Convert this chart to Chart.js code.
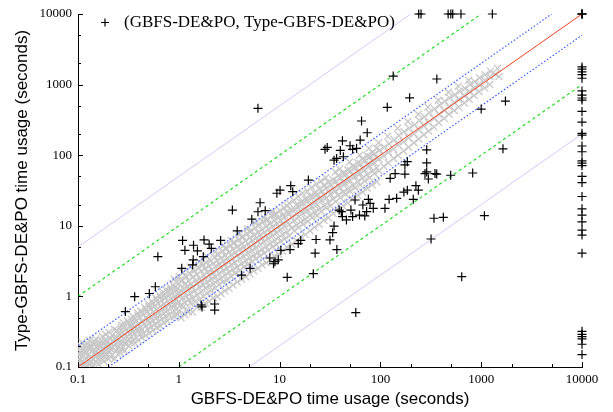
<!DOCTYPE html>
<html><head><meta charset="utf-8">
<script src="https://cdn.jsdelivr.net/npm/chart.js@4.4.1/dist/chart.umd.min.js"></script>
<style>html,body{margin:0;padding:0;background:#fff;}canvas{display:block;}</style>
</head><body>
<canvas id="c" width="613" height="412"></canvas>
<script>
const majorTicks = [0.1, 1, 10, 100, 1000, 10000];
const minorTicks = [0.2, 0.5, 2, 5, 20, 50, 200, 500, 2000, 5000];
const tickLabels = ['0.1', '1', '10', '100', '1000', '10000'];
const xTitle = 'GBFS-DE&PO time usage (seconds)';
const yTitle = 'Type-GBFS-DE&PO time usage (seconds)';
const legendText = '(GBFS-DE&PO, Type-GBFS-DE&PO)';

// gray (within band) points
const grayPairs = [
[0.1,0.1],[0.1,0.115],[0.102,0.13],[0.104,0.15],[0.1,0.175],[0.106,0.2],
[0.11,0.1],[0.112,0.12],[0.108,0.14],[0.113,0.18],[0.11,0.225],
[0.12,0.1],[0.118,0.112],[0.122,0.132],[0.12,0.16],[0.124,0.19],
[0.13,0.108],[0.132,0.122],[0.128,0.152],[0.134,0.2],[0.13,0.24],
[0.14,0.1],[0.142,0.13],[0.138,0.17],[0.144,0.21],
[0.15,0.118],[0.152,0.14],[0.148,0.162],[0.155,0.19],[0.15,0.25],
[0.16,0.11],[0.163,0.15],[0.158,0.182],[0.165,0.22],
[0.17,0.13],[0.172,0.16],[0.168,0.2],[0.175,0.27],
[0.18,0.12],[0.184,0.17],[0.178,0.212],[0.186,0.24],
[0.19,0.142],[0.195,0.18],[0.192,0.23],
[0.2,0.13],[0.205,0.162],[0.2,0.2],[0.208,0.26],[0.202,0.31],
[0.22,0.15],[0.218,0.19],[0.224,0.232],[0.22,0.28],
[0.24,0.17],[0.238,0.21],[0.245,0.26],[0.242,0.33],
[0.26,0.16],[0.263,0.22],[0.258,0.29],[0.266,0.36],
[0.28,0.19],[0.285,0.25],[0.279,0.31],[0.283,0.42],
[0.3,0.21],[0.305,0.27],[0.298,0.34],[0.31,0.45],
[0.32,0.2],[0.325,0.29],[0.33,0.38],
[0.35,0.24],[0.345,0.31],[0.355,0.4],[0.352,0.52],
[0.38,0.26],[0.385,0.35],[0.376,0.44],[0.39,0.58],
[0.41,0.29],[0.415,0.37],[0.405,0.5],[0.42,0.62],
[0.45,0.3],[0.455,0.41],[0.445,0.55],[0.46,0.7],
[0.49,0.34],[0.495,0.46],[0.485,0.6],[0.5,0.78],
[0.53,0.37],[0.535,0.5],[0.525,0.66],[0.54,0.85],
[0.58,0.4],[0.585,0.55],[0.575,0.72],[0.59,0.95],
[0.63,0.44],[0.635,0.6],[0.625,0.8],[0.64,1.05],
[0.68,0.48],[0.69,0.66],[0.675,0.88],[0.7,1.15],
[0.74,0.52],[0.745,0.7],[0.735,0.95],[0.75,1.25],
[0.8,0.55],[0.81,0.77],[0.795,1.02],[0.82,1.35],
[0.87,0.6],[0.875,0.83],[0.865,1.1],[0.88,1.45],
[0.94,0.65],[0.945,0.9],[0.935,1.2],[0.95,1.6],
[1.0,0.62],[1.0,0.85],[1.02,1.1],[0.99,1.5],[1.01,1.9],
[1.1,0.7],[1.1,0.95],[1.12,1.3],[1.09,1.7],[1.1,2.2],
[1.2,0.65],[1.2,1.0],[1.22,1.4],[1.19,1.9],
[1.3,0.8],[1.3,1.1],[1.32,1.5],[1.29,2.1],[1.3,2.6],
[1.45,0.85],[1.45,1.2],[1.47,1.7],[1.44,2.3],
[1.6,0.9],[1.6,1.35],[1.62,1.8],[1.58,2.5],[1.6,3.1],
[1.75,1.0],[1.75,1.45],[1.77,2.0],[1.74,2.8],
[1.9,1.1],[1.9,1.6],[1.92,2.2],[1.88,3.0],[1.9,3.7],
[2.1,1.2],[2.1,1.75],[2.12,2.4],[2.08,3.2],
[2.3,1.3],[2.3,1.9],[2.33,2.7],[2.28,3.6],[2.3,4.3],
[2.5,1.45],[2.5,2.1],[2.53,2.9],[2.48,3.9],
[2.75,1.6],[2.75,2.3],[2.78,3.2],[2.72,4.4],[2.75,5.2],
[3.0,1.7],[3.0,2.5],[3.04,3.5],[2.97,4.8],
[3.3,1.9],[3.3,2.8],[3.34,3.9],[3.27,5.3],[3.3,6.2],
[3.6,2.1],[3.6,3.0],[3.64,4.2],[3.57,5.8],
[4.0,2.3],[4.0,3.4],[4.05,4.7],[3.96,6.4],[4.0,7.5],
[4.4,2.6],[4.4,3.7],[4.45,5.1],[4.36,7.0],
[4.8,2.8],[4.8,4.1],[4.86,5.6],[4.75,7.8],[4.8,9.0],
[5.3,3.1],[5.3,4.5],[5.36,6.2],[5.25,8.5],
[5.8,3.4],[5.8,4.9],[5.87,6.8],[5.74,9.4],[5.8,11],
[6.4,3.7],[6.4,5.5],[6.48,7.5],[6.33,10.5],
[7.0,4.1],[7.0,6.0],[7.09,8.2],[6.93,11.5],[7.0,13],
[7.7,4.5],[7.7,6.6],[7.8,9.0],[7.62,12.5],
[8.5,5.0],[8.5,7.3],[8.6,9.9],[8.4,14],[8.5,16],
[9.3,5.4],[9.3,8.0],[9.42,10.8],[9.2,15],
[10.2,6.0],[10.2,8.8],[10.3,12],[10.1,16.5],
[11.2,6.5],[11.2,9.8],[11.35,13.5],[11.1,18],
[12.5,7.2],[12.5,10.5],[12.65,15],[12.4,21],
[14,8.5],[14,12],[14.2,17],[13.85,23],
[15.5,9.5],[15.5,13.5],[15.7,19],[15.3,26],
[17,10.5],[17,15],[17.2,21],[16.8,29],
[19,11.5],[19,16.5],[19.25,23],[18.8,31],
[21,13],[21,18.5],[21.3,26],[20.8,35],
[23.5,14],[23.5,20],[23.8,28],[23.2,39],
[26,16],[26,23],[26.4,31],[25.7,43],
[29,18],[29,25],[29.4,35],[28.7,48],
[32,19],[32,28],[32.4,38],
[36,22],[36,31],[36.5,43],[35.6,58],
[40,25],[40,35],[40.5,48],[39.6,64],
[45,28],[45,40],[45.6,54],
[50,31],[50,44],[50.7,60],[49.4,80],
[56,35],[56,50],[56.8,67],
[63,38],[63,55],[63.8,75],[62.3,100],
[70,43],[70,62],[71,85],
[78,48],[78,70],[79,95],[77,125],
[87,55],[87,78],[88,105],
[97,60],[97,88],[98.5,118],[96,150],
[108,70],[108,98],[110,130],
[120,78],[120,110],[122,145],[118,185],
[135,90],[135,122],[137,165],
[150,100],[150,140],[152,190],[148,240],
[170,115],[170,155],[172,215],
[190,130],[190,175],[193,240],[187,300],
[215,150],[215,200],[218,270],
[240,170],[240,230],[244,310],[237,380],
[270,195],[270,260],[274,350],
[300,220],[300,290],[305,400],[296,480],
[340,250],[340,330],[345,450],
[380,290],[380,380],[386,510],[375,600],
[430,330],[430,430],[436,580],
[480,380],[480,490],[487,650],[474,780],
[540,430],[540,560],[548,720],
[600,480],[600,620],[609,800],[592,950],
[680,550],[680,700],[690,880],
[760,620],[760,800],[771,1000],[750,1150],
[850,700],[850,900],[862,1100],
[950,800],[950,1000],[964,1250],
[1080,900],[1080,1150],[1095,1380],
[1220,1000],[1220,1300],[1237,1550],
[1380,1400],[1450,1700],[1500,1300],
[0.105,0.125],[0.105,0.165],[0.115,0.105],[0.115,0.16],[0.115,0.2],[0.125,0.145],[0.125,0.21],
[0.135,0.115],[0.135,0.185],[0.145,0.15],[0.145,0.23],[0.157,0.13],[0.157,0.2],[0.173,0.145],[0.173,0.235],
[0.188,0.155],[0.188,0.2],[0.188,0.29],[0.21,0.14],[0.21,0.18],[0.21,0.215],[0.21,0.25],
[0.23,0.13],[0.23,0.2],[0.23,0.25],[0.23,0.34],[0.25,0.15],[0.25,0.19],[0.25,0.24],[0.25,0.3],
[0.27,0.18],[0.27,0.23],[0.27,0.27],[0.27,0.39],[0.29,0.17],[0.29,0.22],[0.29,0.29],[0.29,0.37],
[0.315,0.24],[0.315,0.32],[0.315,0.42],[0.34,0.22],[0.34,0.27],[0.34,0.35],[0.34,0.47],
[0.365,0.22],[0.365,0.3],[0.365,0.37],[0.365,0.48],[0.395,0.24],[0.395,0.32],[0.395,0.41],[0.395,0.53],
[0.43,0.26],[0.43,0.34],[0.43,0.45],[0.43,0.6],[0.47,0.28],[0.47,0.38],[0.47,0.5],[0.47,0.65],
[0.51,0.3],[0.51,0.42],[0.51,0.55],[0.51,0.72],[0.555,0.33],[0.555,0.46],[0.555,0.6],[0.555,0.8],
[0.605,0.36],[0.605,0.5],[0.605,0.66],[0.605,0.88],[0.655,0.38],[0.655,0.53],[0.655,0.72],[0.655,0.97],
[0.71,0.42],[0.71,0.58],[0.71,0.78],[0.71,1.05],[0.77,0.45],[0.77,0.63],[0.77,0.85],[0.77,1.15],
[0.835,0.5],[0.835,0.7],[0.835,0.93],[0.835,1.25],[0.905,0.52],[0.905,0.75],[0.905,1.0],[0.905,1.35],[0.905,1.75],
[0.97,0.55],[0.97,0.78],[0.97,1.05],[0.97,1.3],
[1.05,0.5],[1.05,0.75],[1.05,1.2],[1.05,1.65],[1.15,0.55],[1.15,0.82],[1.15,1.15],[1.15,1.5],[1.15,2.0],
[1.25,0.6],[1.25,0.9],[1.25,1.25],[1.25,1.65],[1.37,0.6],[1.37,0.95],[1.37,1.35],[1.37,1.85],[1.37,2.4],
[1.52,0.7],[1.52,1.05],[1.52,1.5],[1.52,2.05],[1.67,0.7],[1.67,1.15],[1.67,1.65],[1.67,2.3],[1.67,2.9],
[1.83,0.8],[1.83,1.3],[1.83,1.8],[1.83,2.5],[2.0,0.85],[2.0,1.4],[2.0,2.0],[2.0,2.7],[2.0,3.4],
[2.2,0.95],[2.2,1.5],[2.2,2.15],[2.2,2.9],[2.4,1.0],[2.4,1.65],[2.4,2.35],[2.4,3.2],[2.4,4.0],
[2.62,1.1],[2.62,1.8],[2.62,2.6],[2.62,3.5],[2.87,1.2],[2.87,2.0],[2.87,2.85],[2.87,3.8],[2.87,4.8],
[3.15,1.3],[3.15,2.2],[3.15,3.1],[3.15,4.2],[3.45,1.45],[3.45,2.4],[3.45,3.4],[3.45,4.6],[3.45,5.7],
[3.8,1.6],[3.8,2.6],[3.8,3.75],[3.8,5.0],[4.2,1.75],[4.2,2.9],[4.2,4.1],[4.2,5.5],[4.2,6.9],
[4.6,1.9],[4.6,3.2],[4.6,4.5],[4.6,6.1],[5.05,2.1],[5.05,3.5],[5.05,4.9],[5.05,6.7],[5.05,8.3],
[5.55,2.3],[5.55,3.8],[5.55,5.4],[5.55,7.3],[6.1,2.5],[6.1,4.2],[6.1,6.0],[6.1,8.0],[6.1,10],
[6.7,2.8],[6.7,4.6],[6.7,6.6],[6.7,8.8],[7.35,3.0],[7.35,5.1],[7.35,7.2],[7.35,9.7],[7.35,12],
[8.1,3.3],[8.1,5.6],[8.1,7.9],[8.1,10.7],[8.9,3.7],[8.9,6.2],[8.9,8.7],[8.9,11.8],[8.9,14],
[9.75,4.0],[9.75,6.8],[9.75,9.5],[9.75,13],
[10.7,4.4],[10.7,7.5],[10.7,10.5],[10.7,14],[11.8,5.0],[11.8,8.2],[11.8,11.5],[11.8,15.5],[11.8,19],
[13.2,5.5],[13.2,9.2],[13.2,13],[13.2,17],[14.7,6.2],[14.7,10.2],[14.7,14.5],[14.7,19.5],
[16.2,7.0],[16.2,11.3],[16.2,16],[16.2,21.5],[18,7.5],[18,12.5],[18,17.5],[18,24],
[20,8.5],[20,14],[20,19.5],[20,26.5],[22.2,9.5],[22.2,15.5],[22.2,21.5],[22.2,29],
[24.7,10.5],[24.7,17],[24.7,24],[24.7,33],[27.5,12],[27.5,19],[27.5,27],[27.5,37],
[30.5,13],[30.5,21.5],[30.5,30],[30.5,41],[34,15],[34,24],[34,33],[34,45],
[38,17],[38,27],[38,37],[38,51],[42.5,19],[42.5,30],[42.5,41],[42.5,56],
[47.5,21],[47.5,33],[47.5,46],[47.5,62],[53,24],[53,37],[53,52],[53,70],
[59.5,27],[59.5,42],[59.5,58],[59.5,78],[66.5,30],[66.5,47],[66.5,65],[66.5,88],
[74,34],[74,53],[74,73],[74,98],[83,38],[83,59],[83,82],[83,110],[92,42],[92,66],[92,91],[92,125]
];

// black (outside band) points
const blackPairs = [
[10000,10000],[10000,10000],[10000,10000],[10000,1780],[10000,1660],[10000,1510],[10000,1380],[10000,1230],
[10000,813],[10000,708],[10000,646],[10000,603],[10000,417],[10000,295],[10000,204],[10000,192],[10000,135],
[10000,112],[10000,83],[10000,77],[10000,71],[10000,50],[10000,41],[10000,26],[10000,17.4],[10000,14.2],
[10000,11.4],[10000,8.7],[10000,7.4],[10000,4.1],[10000,0.32],[10000,0.29],[10000,0.27],[10000,0.25],
[10000,0.21],[10000,0.15],
[240,10000],[253,10000],[470,10000],[500,10000],[522,10000],[630,10000],[1290,10000],
[134,1320],[363,1200],[195,650],[117,477],[1000,450],[1740,585],[6.1,462],
[65,305],[74,208],[63,164],[42,160],[50,136],[53,121],[28.2,121],[29.7,129],[40,117],[58,125],[288,119],[1644,123],
[36.8,90],[34.7,85],[42.9,95],
[185,81],[175,73],[288,78],[140,55],[125,47],[175,54],[288,58],[277,55],[348,55],[362,54],[299,46],[498,52],
[823,56],[225,37],[238,32],[171,30],[185,32],[122,23.7],[145,24.5],[212,23.7],[56,23.2],[76,23.7],[79,20.8],
[67,19.7],[85,17.7],[111,17.7],[39,16.7],[41,15.9],[51,16.7],[73,15.9],[62,14.2],[70,13.8],[53,13.5],[42,13.5],
[46,12.1],[340,12.8],[421,13.2],[1076,13.9],[34.7,9.9],[33.6,8.0],[31.6,6.3],[37,4.6],[318,6.5],[641,1.9],[57,0.59],
[19.3,44.5],[9.4,28.9],[10.1,32],[12.9,37],[13.5,30.4],
[6.4,21.2],[6.1,15.8],[7.2,16.4],[3.4,16.7],[5.3,12.4],[3.8,8.5],[1.09,6.2],[1.15,4.5],[1.4,5.3],[1.53,4.4],
[1.78,6.3],[2.0,5.5],[2.1,4.8],[2.6,6.2],[1.75,3.65],[1.39,3.3],[1.37,2.8],[1.07,2.5],[16.2,6.2],[15.3,5.6],
[23,6.4],[12.7,4.6],[10.3,4.5],[22.5,4.1],[8.0,3.5],[9.0,3.1],[8.7,2.9],[9.7,3.3],[5.1,2.5],[4.2,2.0],
[11.9,1.86],[21.6,2.1],
[0.62,3.65],[0.585,1.37],[0.51,1.1],[0.365,0.99],[0.295,0.61],[1.67,0.755],[1.7,0.71],[2.27,0.78],[2.27,0.64]
];

// reference diagonal lines (endpoints)
const lineEqual = [[0.1,0.1],[10000,10000]];
const lineTwiceUp = [[0.1,0.2],[5000,10000]];
const lineTwiceDown = [[0.2,0.1],[10000,5000]];
const lineTenUp = [[0.1,1],[1000,10000]];
const lineTenDown = [[1,0.1],[10000,1000]];
const lineFiftyUp = [[0.1,5],[200,10000]];
const lineFiftyDown = [[5,0.1],[10000,200]];

const toXY = p => ({x: p[0], y: p[1]});
const lineDs = (pts, color, width, dash) => ({
  data: pts.map(toXY), showLine: true, borderColor: color, borderWidth: width,
  borderDash: dash, pointRadius: 0, fill: false, order: 1
});

const allTicks = majorTicks.concat(minorTicks).sort((a, b) => a - b);
const tickCb = v => { const i = majorTicks.indexOf(v); return i >= 0 ? tickLabels[i] : ''; };

const decor = {
  id: 'decor',
  beforeDraw(chart) {
    const ctx = chart.ctx;
    ctx.save(); ctx.fillStyle = '#fff'; ctx.fillRect(0, 0, chart.width, chart.height); ctx.restore();
  },
  afterDraw(chart) {
    const ctx = chart.ctx, xs = chart.scales.x, ys = chart.scales.y, a = chart.chartArea;
    ctx.save();
    ctx.strokeStyle = '#000'; ctx.lineWidth = 1;
    for (const v of allTicks) {
      const len = majorTicks.includes(v) ? 5 : 3;
      const px = Math.round(xs.getPixelForValue(v)) + 0.5;
      ctx.beginPath(); ctx.moveTo(px, a.bottom); ctx.lineTo(px, a.bottom - len); ctx.stroke();
      const py = Math.round(ys.getPixelForValue(v)) + 0.5;
      ctx.beginPath(); ctx.moveTo(a.left, py); ctx.lineTo(a.left + len, py); ctx.stroke();
    }
    // legend
    ctx.lineWidth = 1.2;
    ctx.beginPath(); ctx.moveTo(101, 22.5); ctx.lineTo(109, 22.5); ctx.moveTo(105, 18.5); ctx.lineTo(105, 26.5); ctx.stroke();
    ctx.fillStyle = '#000';
    ctx.font = '17px "Liberation Serif"';
    ctx.textBaseline = 'alphabetic';
    ctx.fillText(legendText, 124, 26.5);
    ctx.restore();
  }
};

new Chart(document.getElementById('c'), {
  type: 'scatter',
  data: {
    datasets: [
      { data: blackPairs.map(toXY), pointStyle: 'cross', pointRadius: 4.5, pointBorderWidth: 1.2,
        borderColor: '#000', backgroundColor: '#000', order: 0, clip: false },
      lineDs(lineEqual, '#f2401f', 1, []),
      lineDs(lineTwiceUp, '#3a5cff', 1.2, [1.5, 2]),
      lineDs(lineTwiceDown, '#3a5cff', 1.2, [1.5, 2]),
      lineDs(lineTenUp, '#22dd22', 1.2, [3, 3]),
      lineDs(lineTenDown, '#22dd22', 1.2, [3, 3]),
      lineDs(lineFiftyUp, '#cdb8ff', 0.8, []),
      lineDs(lineFiftyDown, '#cdb8ff', 0.8, []),
      { data: grayPairs.map(toXY), pointStyle: 'crossRot', pointRadius: 5, pointBorderWidth: 1.3,
        borderColor: '#c8c8c8', backgroundColor: '#c8c8c8', order: 2, clip: 0 }
    ]
  },
  options: {
    responsive: false, animation: false, devicePixelRatio: 1,
    layout: { padding: { top: 14, right: 31, left: 0, bottom: 0 } },
    plugins: { legend: { display: false }, tooltip: { enabled: false } },
    events: [],
    scales: {
      x: {
        type: 'logarithmic', min: 0.1, max: 10000,
        afterBuildTicks: s => { s.ticks = allTicks.map(v => ({ value: v })); },
        afterFit: s => { s.height = 45; },
        grid: { display: false, drawTicks: false },
        border: { display: true, color: '#000', width: 1 },
        ticks: { callback: tickCb, autoSkip: false, maxRotation: 0, minRotation: 0, padding: 5,
                 color: '#000', font: { family: 'Liberation Serif', size: 13 } },
        title: { display: true, text: xTitle, color: '#000', padding: { top: 0, bottom: 2 },
                 font: { family: 'Liberation Sans', size: 17 } }
      },
      y: {
        type: 'logarithmic', min: 0.1, max: 10000,
        afterBuildTicks: s => { s.ticks = allTicks.map(v => ({ value: v })); },
        afterFit: s => { s.width = 78; },
        grid: { display: false, drawTicks: false },
        border: { display: true, color: '#000', width: 1 },
        ticks: { callback: tickCb, autoSkip: false, padding: 6,
                 color: '#000', font: { family: 'Liberation Serif', size: 13 } },
        title: { display: true, text: yTitle, color: '#000', padding: { top: 12, bottom: 0 },
                 font: { family: 'Liberation Sans', size: 17 } }
      }
    }
  },
  plugins: [decor]
});
</script>
</body></html>
